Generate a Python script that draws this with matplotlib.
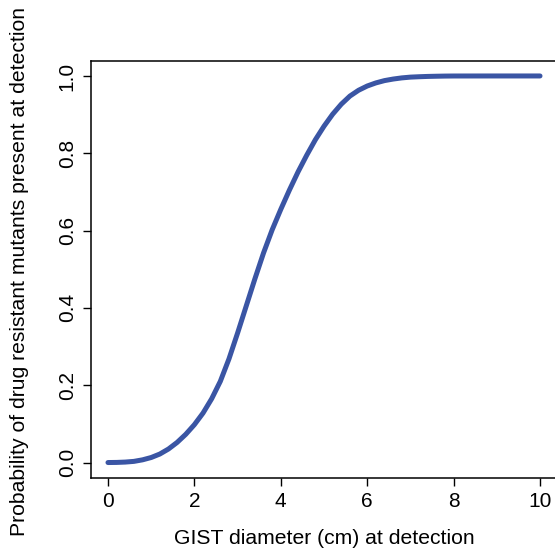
import matplotlib
matplotlib.use('Agg')
import matplotlib.pyplot as plt

plt.rcParams['font.family'] = ['Liberation Sans', 'DejaVu Sans']

# GIST diameter (cm) vs probability
diameter = [0.0, 0.2, 0.4, 0.6, 0.8, 1.0, 1.2, 1.4, 1.6, 1.8,
            2.0, 2.2, 2.4, 2.6, 2.8, 3.0, 3.2, 3.4, 3.6, 3.8,
            4.0, 4.2, 4.4, 4.6, 4.8, 5.0, 5.2, 5.4, 5.6, 5.8,
            6.0, 6.2, 6.4, 6.6, 6.8, 7.0, 7.2, 7.4, 7.6, 7.8,
            8.0, 9.0, 10.0]
prob = [0.0, 0.0003, 0.0012, 0.003, 0.007, 0.013, 0.022, 0.035, 0.052, 0.073,
        0.098, 0.128, 0.165, 0.21, 0.268, 0.335, 0.405, 0.475, 0.542, 0.602,
        0.655, 0.705, 0.752, 0.795, 0.835, 0.87, 0.901, 0.927, 0.948, 0.963,
        0.974, 0.982, 0.988, 0.992, 0.995, 0.997, 0.998, 0.9988, 0.9993, 0.9997,
        0.9999, 1.0, 1.0]

xticks = [0, 2, 4, 6, 8, 10]
yticks = [0.0, 0.2, 0.4, 0.6, 0.8, 1.0]

W, H = 555, 552
fig = plt.figure(figsize=(W / 100, H / 100), dpi=100)
# axes box in pixels: left 90.7, right 557.3 (cut off), top 60.5, bottom 478
ax = fig.add_axes([90.7 / W, (H - 478) / H, (557.3 - 90.7) / W, (478 - 60.5) / H])

ax.plot(diameter, prob, color='#3A55A4', lw=3.6,
        solid_capstyle='round', solid_joinstyle='round')

ax.set_xlim(-0.4, 10.4)
ax.set_ylim(-0.04, 1.04)
ax.set_xticks(xticks)
ax.set_xticklabels([str(t) for t in xticks])
ax.set_yticks(yticks)
ax.set_yticklabels(['%.1f' % t for t in yticks], rotation=90, va='center')
ax.tick_params(direction='out', length=6, width=1, labelsize=15, colors='black')
ax.tick_params(axis='x', pad=4)
ax.tick_params(axis='y', pad=4)
for s in ax.spines.values():
    s.set_linewidth(1.1)

fig.text(324 / W, 1 - 538 / H, 'GIST diameter (cm) at detection',
         ha='center', va='center', fontsize=15.2)
fig.text(20 / W, 1 - 271 / H, 'Probability of drug resistant mutants present at detection',
         ha='center', va='center', rotation=90, fontsize=15.2)

fig.savefig('out.png', dpi=100)
